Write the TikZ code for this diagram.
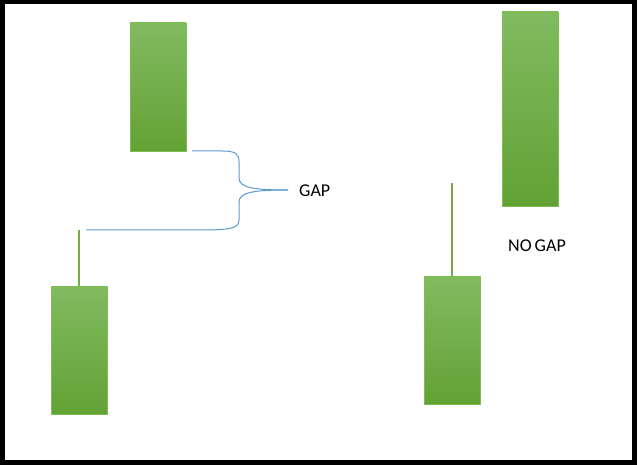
\documentclass[tikz,border=0pt]{standalone}
\usepackage{fontspec}
\setmainfont{Carlito}
\definecolor{gtop}{RGB}{130,186,96}
\definecolor{gbot}{RGB}{98,162,52}
\definecolor{gedge}{RGB}{125,190,80}
\definecolor{wickc}{RGB}{112,173,71}
\definecolor{bracec}{RGB}{91,155,213}
\tikzset{
  candle/.style={draw=gedge, line width=0.8pt, top color=gtop, bottom color=gbot, inner sep=0pt, minimum width=56pt},
  wick/.style={draw=wickc, line width=1.5pt},
  bracepath/.style={draw=bracec, line width=1pt},
  lbl/.style={font=\fontsize{18}{21}\selectfont, inner sep=0pt, anchor=west}
}
\begin{document}
\begin{tikzpicture}[x=1pt,y=-1pt]
\useasboundingbox (0,0) rectangle (640,465);
\fill[white] (0,0) rectangle (640,465);
\draw[line width=5pt] (2.5,2) rectangle (634.5,462.5);
% candles
\node[candle, minimum height=128pt] (c1) at (158,87) {};
\node[candle, minimum height=128pt] (c2) at (79,350) {};
\node[candle, minimum height=128pt] (c3) at (452,340) {};
\node[candle, minimum height=194pt] (c4) at (530,109) {};
% wicks
\coordinate (w2) at (79,230);
\coordinate (w3) at (452,183);
\draw[wick] (c2.north) -- (w2);
\draw[wick] (c3.north) -- (w3);
% brace
\coordinate (bt) at (192,151);
\coordinate (bb) at (86,230);
\node[lbl] (gap) at (299,191) {GAP};
\coordinate (tip) at (288,190);
\draw[bracepath] (bt) -- (222,151) .. controls (236,151) and (239,154) .. (239,162)
  -- (239,178) .. controls (239,188) and (255,190) .. (tip);
\draw[bracepath] (tip) .. controls (255,190) and (239,192) .. (239,202)
  -- (239,220) .. controls (239,228) and (232,230) .. (200,230) -- (bb);
\node[lbl] (nogap) at (508,246) {NO\hspace{3pt}GAP};
\end{tikzpicture}
\end{document}
